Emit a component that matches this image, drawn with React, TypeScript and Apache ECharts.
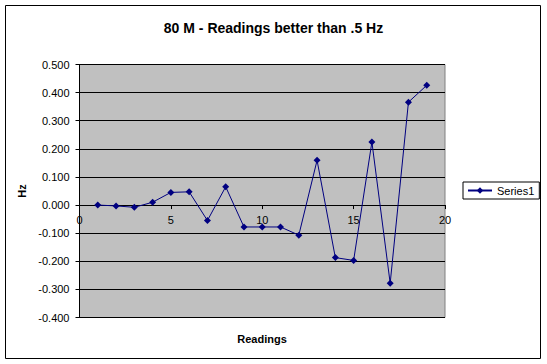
import React, { useEffect, useRef } from "react";
import * as echarts from "echarts";

const readings = [1, 2, 3, 4, 5, 6, 7, 8, 9, 10, 11, 12, 13, 14, 15, 16, 17, 18, 19];
const hzValues = [0.0, -0.003, -0.008, 0.01, 0.045, 0.047, -0.055, 0.065, -0.078, -0.078, -0.078, -0.107, 0.159, -0.187, -0.197, 0.224, -0.278, 0.366, 0.426];
const titleText = "80 M - Readings better than .5 Hz";
const seriesName = "Series1";
const xName = "Readings";
const yName = "Hz";
const yMin = -0.4;
const yMax = 0.5;

export default function App() {
  const ref = useRef<HTMLDivElement>(null);
  useEffect(() => {
    document.body.style.margin = "0";
    const chart = echarts.init(ref.current!, null, { renderer: "svg" });
    const font = "Arial, 'Liberation Sans', sans-serif";
    const gridTop = 64.5;
    const gridHeight = 253;
    // distance from grid bottom up to the y=0 line
    const zeroOffset = -(gridHeight * (0 - yMin)) / (yMax - yMin);
    chart.setOption({
      animation: false,
      backgroundColor: "#ffffff",
      title: {
        text: titleText,
        left: "center",
        top: 16,
        textStyle: { fontFamily: font, fontSize: 14, fontWeight: "bold", color: "#000" },
      },
      legend: {
        data: [seriesName],
        left: 463,
        top: 182,
        orient: "vertical",
        borderColor: "#000",
        borderWidth: 1,
        borderRadius: 0,
        padding: [3, 5, 3, 4],
        itemWidth: 24,
        itemHeight: 8,
        itemGap: 0,
        textStyle: { fontFamily: font, fontSize: 11, color: "#000" },
      },
      grid: {
        left: 79.5,
        top: gridTop,
        width: 365.5,
        height: gridHeight,
        containLabel: false,
        outerBoundsMode: "none",
        show: true,
        backgroundColor: "#C0C0C0",
        borderColor: "#808080",
        borderWidth: 1,
      },
      xAxis: {
        type: "value",
        position: "bottom",
        offset: zeroOffset,
        min: 0,
        max: 20,
        interval: 5,
        axisLine: { onZero: false, lineStyle: { color: "#000", width: 1 } },
        axisTick: { show: true, inside: false, length: 4, lineStyle: { color: "#000" } },
        axisLabel: { fontFamily: font, fontSize: 11, color: "#000", margin: 9 },
        splitLine: { show: false },
      },
      yAxis: {
        type: "value",
        min: yMin,
        max: yMax,
        interval: 0.1,
        name: yName,
        nameLocation: "middle",
        nameGap: 46,
        nameRotate: 90,
        nameTextStyle: { fontFamily: font, fontSize: 11, fontWeight: "bold", color: "#000" },
        axisLine: { show: true, onZero: false, lineStyle: { color: "#000", width: 1 } },
        axisTick: { show: true, inside: false, length: 4, lineStyle: { color: "#000" } },
        axisLabel: {
          fontFamily: font,
          fontSize: 11,
          color: "#000",
          margin: 10,
          formatter: (v: number) => v.toFixed(3),
        },
        splitLine: { show: true, lineStyle: { color: "#000", width: 1 } },
      },
      series: [
        {
          name: seriesName,
          type: "line",
          data: readings.map((r, i) => [r, hzValues[i]]),
          symbol: "diamond",
          symbolSize: 7,
          itemStyle: { color: "#000080" },
          lineStyle: { color: "#000080", width: 1 },
        },
      ],
      graphic: [
        {
          type: "rect",
          shape: { x: 5.5, y: 5.5, width: 535, height: 353 },
          style: { fill: "none", stroke: "#000", lineWidth: 1 },
          silent: true,
        },
        {
          type: "text",
          x: 262,
          y: 339,
          style: {
            text: xName,
            fontFamily: font,
            fontSize: 11,
            fontWeight: "bold",
            fill: "#000",
            align: "center",
            verticalAlign: "middle",
          },
        },
      ],
    });
    return () => chart.dispose();
  }, []);
  return <div ref={ref} style={{ width: 547, height: 364 }} />;
}
